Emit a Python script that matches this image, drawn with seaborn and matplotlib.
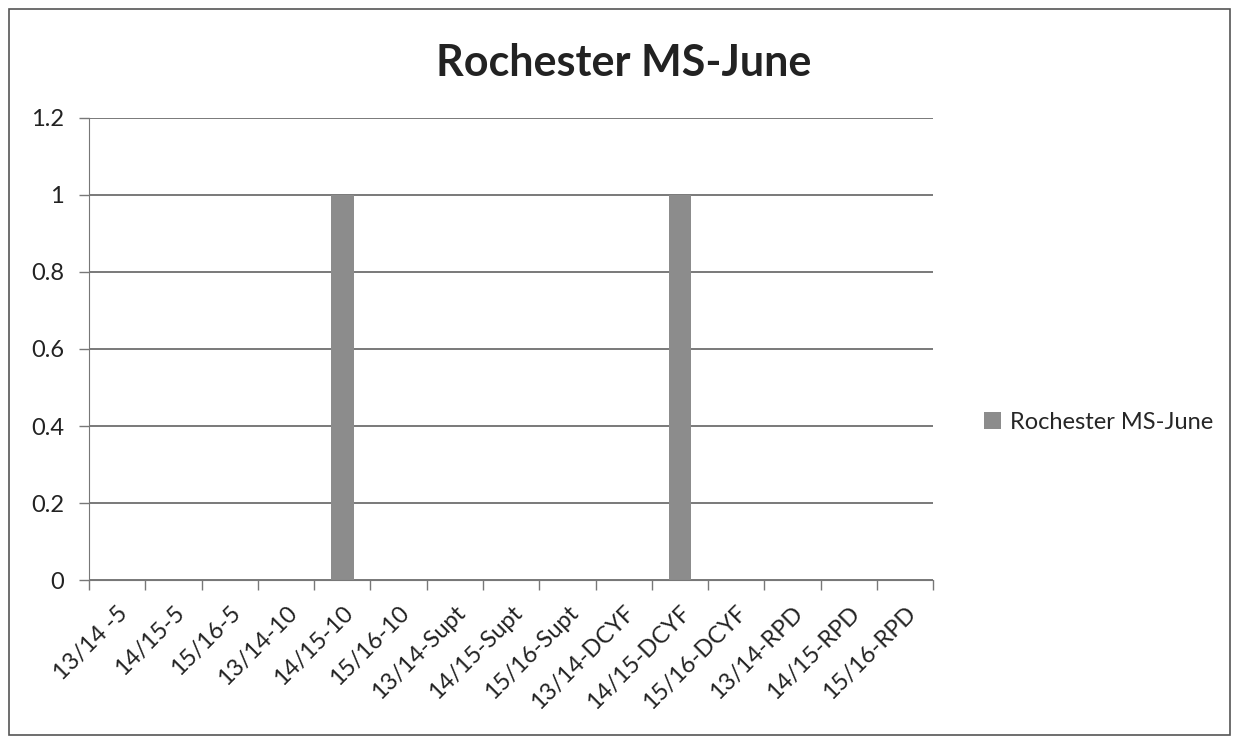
import numpy as np
import pandas as pd
import matplotlib.pyplot as plt
import seaborn as sns
from matplotlib.patches import Rectangle

# data
categories = ['13/14 -5', '14/15-5', '15/16-5', '13/14-10', '14/15-10', '15/16-10',
              '13/14-Supt', '14/15-Supt', '15/16-Supt', '13/14-DCYF', '14/15-DCYF',
              '15/16-DCYF', '13/14-RPD', '14/15-RPD', '15/16-RPD']
values = [0, 0, 0, 0, 1, 0, 0, 0, 0, 0, 1, 0, 0, 0, 0]
series_name = 'Rochester MS-June'
y_ticks = [0, 0.2, 0.4, 0.6, 0.8, 1, 1.2]
y_labels = ['0', '0.2', '0.4', '0.6', '0.8', '1', '1.2']

df = pd.DataFrame({'category': categories, 'value': values})

sns.set_style('white')
plt.rcParams['font.family'] = ['Lato', 'DejaVu Sans']

fig = plt.figure(figsize=(12.36, 7.42), dpi=100)
ax = fig.add_axes([0.0720, 0.2183, 0.6830, 0.6227])

sns.barplot(data=df, x='category', y='value', color='#8c8c8c', width=0.4,
            saturation=1, label=series_name, linewidth=0, ax=ax)

ax.set_ylim(0, 1.2)
ax.set_xlim(-0.5, len(categories) - 0.5)
ax.set_yticks(y_ticks)
ax.set_yticklabels(y_labels, fontsize=17, color='#222222')
ax.yaxis.grid(True, color='#555555', linewidth=1.1)
ax.set_axisbelow(True)

# Excel style ticks at category boundaries
ax.set_xticks(np.arange(len(categories)))
ax.set_xticklabels(categories, rotation=45, ha='right', rotation_mode='anchor',
                   fontsize=17, color='#222222')
ax.set_xticks(np.arange(-0.5, len(categories)), minor=True)
ax.tick_params(axis='x', which='major', length=0, pad=16)
ax.tick_params(axis='x', which='minor', length=7, width=1, color='#777777', direction='out', bottom=True)
ax.tick_params(axis='y', length=7, width=1, color='#777777', direction='out', left=True, pad=11)

ax.set_xlabel('')
ax.set_ylabel('')
for s in ['top', 'right']:
    ax.spines[s].set_visible(False)
ax.spines['left'].set_color('#777777')
ax.spines['bottom'].set_color('#777777')

fig.text(0.505, 0.915, series_name, fontsize=31, fontweight='bold', color='#222222',
         ha='center', va='center')

ax.legend(loc='center left', bbox_to_anchor=(1.035, 0.342), frameon=False,
          fontsize=17, handlelength=0.7, handleheight=0.7, handletextpad=0.4)

# outer chart border
fig.add_artist(Rectangle((0.007, 0.01), 0.988, 0.978, transform=fig.transFigure,
                         fill=False, edgecolor='#555555', linewidth=1.2))

plt.savefig('out.png', dpi=100)
plt.close()
